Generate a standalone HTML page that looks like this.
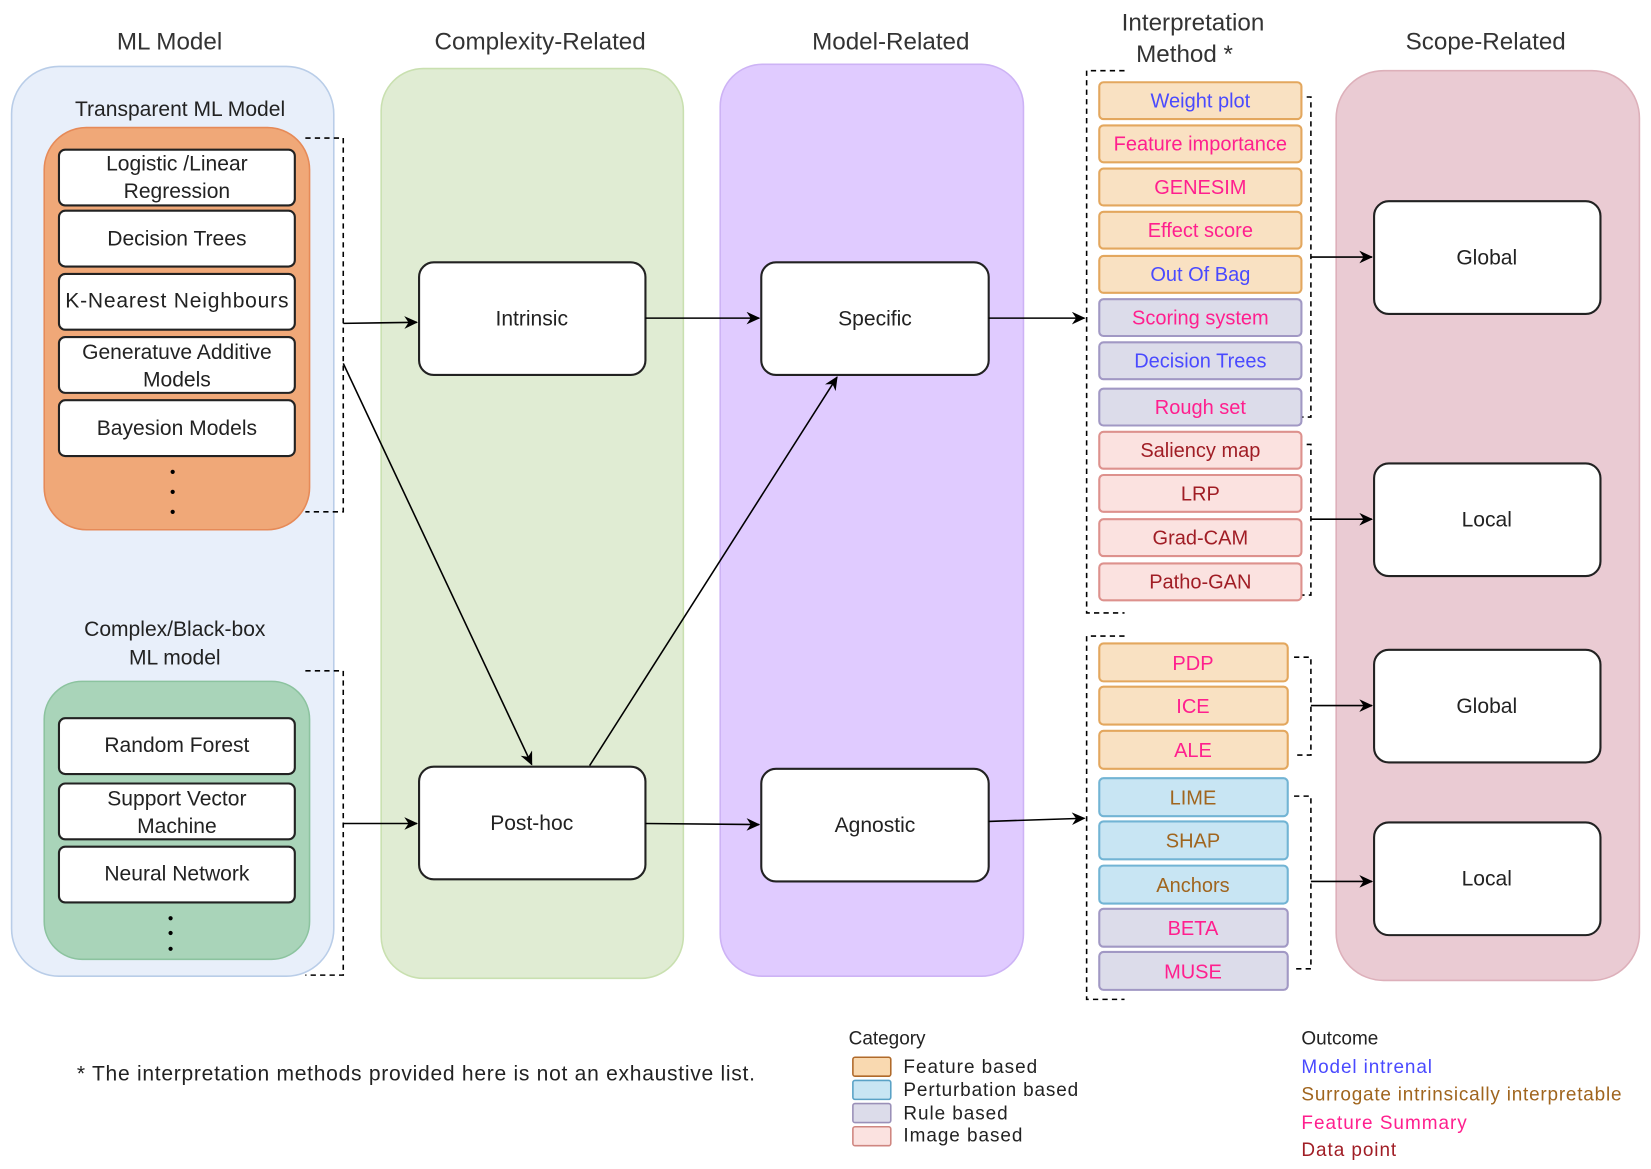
<!DOCTYPE html>
<html><head><meta charset="utf-8"><style>html,body{margin:0;padding:0;background:#fff}svg{display:block}text{font-family:"Liberation Sans",sans-serif}</style></head><body>
<svg width="1651" height="1169" viewBox="0 0 1568 1110" xmlns="http://www.w3.org/2000/svg">
<defs><marker id="a" markerWidth="13" markerHeight="12" refX="12" refY="6" orient="auto" markerUnits="userSpaceOnUse"><path d="M0,0 L13,6 L0,12 L4,6 z" fill="#000"/></marker></defs>
<g font-size="23" fill="#333" text-anchor="middle">
<text x="161" y="47">ML Model</text><text x="513" y="47">Complexity-Related</text><text x="846" y="47">Model-Related</text>
<text x="1133" y="29">Interpretation</text><text x="1125" y="59">Method *</text><text x="1411" y="47">Scope-Related</text></g>
<rect x="11" y="63" width="306" height="864" rx="45" fill="#e8effa" stroke="#b9cde8" stroke-width="1.5"/>
<rect x="362" y="65" width="287" height="864" rx="40" fill="#e0ecd3" stroke="#c9e0b0" stroke-width="1.5"/>
<rect x="684" y="61" width="288" height="866" rx="40" fill="#e0cbff" stroke="#cdb3f5" stroke-width="1.5"/>
<rect x="1269" y="67" width="288" height="864" rx="45" fill="#eacbd3" stroke="#ddb0ba" stroke-width="1.5"/>
<g font-size="20" fill="#222" text-anchor="middle">
<text x="171" y="110">Transparent ML Model</text>
<text x="166" y="604">Complex/Black-box</text><text x="166" y="631">ML model</text></g>
<rect x="42" y="121" width="252" height="382" rx="40" fill="#f0a878" stroke="#e68a58" stroke-width="1.5"/>
<rect x="42" y="647" width="252" height="264" rx="36" fill="#a9d4b9" stroke="#8cc39f" stroke-width="1.5"/>
<g fill="#fff" stroke="#222" stroke-width="2">
<rect x="56" y="142" width="224" height="53" rx="6"/><rect x="56" y="200" width="224" height="53" rx="6"/>
<rect x="56" y="260" width="224" height="53" rx="6"/><rect x="56" y="320" width="224" height="53" rx="6"/>
<rect x="56" y="380" width="224" height="53" rx="6"/>
<rect x="56" y="682" width="224" height="53" rx="6"/><rect x="56" y="744" width="224" height="53" rx="6"/><rect x="56" y="804" width="224" height="53" rx="6"/>
<rect x="398" y="249" width="215" height="107" rx="14"/><rect x="398" y="728" width="215" height="107" rx="14"/>
<rect x="723" y="249" width="216" height="107" rx="14"/><rect x="723" y="730" width="216" height="107" rx="14"/>
<rect x="1305" y="191" width="215" height="107" rx="14"/><rect x="1305" y="440" width="215" height="107" rx="14"/>
<rect x="1305" y="617" width="215" height="107" rx="14"/><rect x="1305" y="781" width="215" height="107" rx="14"/>
</g>
<g font-size="20" fill="#222" text-anchor="middle">
<text x="168" y="162">Logistic /Linear</text><text x="168" y="188">Regression</text>
<text x="168" y="233">Decision Trees</text><text x="168" y="292" textLength="212">K-Nearest Neighbours</text>
<text x="168" y="341">Generatuve Additive</text><text x="168" y="367">Models</text>
<text x="168" y="413">Bayesion Models</text>
<text x="168" y="714">Random Forest</text><text x="168" y="765">Support Vector</text><text x="168" y="791">Machine</text>
<text x="168" y="836">Neural Network</text>
<text x="505" y="309">Intrinsic</text><text x="505" y="788">Post-hoc</text>
<text x="831" y="309">Specific</text><text x="831" y="790">Agnostic</text>
<text x="1412" y="251">Global</text><text x="1412" y="500">Local</text><text x="1412" y="677">Global</text><text x="1412" y="841">Local</text>
</g>
<g fill="#000"><circle cx="164" cy="448" r="2"/><circle cx="164" cy="467" r="2"/><circle cx="164" cy="486" r="2"/>
<circle cx="162" cy="872" r="2"/><circle cx="162" cy="886" r="2"/><circle cx="162" cy="901" r="2"/></g>
<g fill="none" stroke="#000" stroke-width="1.5" stroke-dasharray="5,4">
<path d="M290,131 H326 V486 H290"/><path d="M290,637 H326 V926 H290"/>
<path d="M1068,67 H1032 V582 H1068"/><path d="M1068,604 H1032 V949 H1068"/>
<path d="M1232,92 H1245 V396 H1232"/><path d="M1232,422 H1245 V565 H1232"/>
<path d="M1229,624 H1245 V717 H1229"/><path d="M1229,756 H1245 V920 H1229"/>
</g>
<g stroke="#000" stroke-width="1.5" marker-end="url(#a)">
<line x1="326" y1="307" x2="396" y2="306"/><line x1="326" y1="782" x2="396" y2="782"/>
<line x1="326" y1="345" x2="505" y2="726"/><line x1="560" y1="727" x2="795" y2="358"/>
<line x1="613" y1="302" x2="721" y2="302"/><line x1="613" y1="782" x2="721" y2="783"/>
<line x1="939" y1="302" x2="1030" y2="302"/><line x1="939" y1="780" x2="1030" y2="777"/>
<line x1="1245" y1="244" x2="1303" y2="244"/><line x1="1245" y1="493" x2="1303" y2="493"/>
<line x1="1245" y1="670" x2="1303" y2="670"/><line x1="1245" y1="837" x2="1303" y2="837"/>
</g>
<g stroke-width="2">
<g fill="#f9e1c2" stroke="#e3a75e">
<rect x="1044" y="78" width="192" height="35" rx="4"/><rect x="1044" y="119" width="192" height="35" rx="4"/>
<rect x="1044" y="160" width="192" height="35" rx="4"/><rect x="1044" y="201" width="192" height="35" rx="4"/>
<rect x="1044" y="243" width="192" height="35" rx="4"/>
<rect x="1044" y="611" width="179" height="36" rx="4"/><rect x="1044" y="652" width="179" height="36" rx="4"/><rect x="1044" y="694" width="179" height="36" rx="4"/></g>
<g fill="#dcdcea" stroke="#a198c4">
<rect x="1044" y="284" width="192" height="35" rx="4"/><rect x="1044" y="325" width="192" height="35" rx="4"/><rect x="1044" y="369" width="192" height="35" rx="4"/>
<rect x="1044" y="863" width="179" height="36" rx="4"/><rect x="1044" y="904" width="179" height="36" rx="4"/></g>
<g fill="#fbe2e0" stroke="#dd918d">
<rect x="1044" y="410" width="192" height="35" rx="4"/><rect x="1044" y="451" width="192" height="35" rx="4"/>
<rect x="1044" y="493" width="192" height="35" rx="4"/><rect x="1044" y="535" width="192" height="35" rx="4"/></g>
<g fill="#c8e5f3" stroke="#72b4d4">
<rect x="1044" y="739" width="179" height="36" rx="4"/><rect x="1044" y="780" width="179" height="36" rx="4"/><rect x="1044" y="822" width="179" height="36" rx="4"/></g>
</g>
<g font-size="19" text-anchor="middle">
<text x="1140" y="102" fill="#4a4aff">Weight plot</text><text x="1140" y="143" fill="#ff1f8e">Feature importance</text>
<text x="1140" y="184" fill="#ff1f8e">GENESIM</text><text x="1140" y="225" fill="#ff1f8e">Effect score</text>
<text x="1140" y="267" fill="#4a4aff">Out Of Bag</text><text x="1140" y="308" fill="#ff1f8e">Scoring system</text>
<text x="1140" y="349" fill="#4a4aff">Decision Trees</text><text x="1140" y="393" fill="#ff1f8e">Rough set</text>
<text x="1140" y="434" fill="#a01d25">Saliency map</text><text x="1140" y="475" fill="#a01d25">LRP</text>
<text x="1140" y="517" fill="#a01d25">Grad-CAM</text><text x="1140" y="559" fill="#a01d25">Patho-GAN</text>
<text x="1133" y="636" fill="#ff1f8e">PDP</text><text x="1133" y="677" fill="#ff1f8e">ICE</text><text x="1133" y="719" fill="#ff1f8e">ALE</text>
<text x="1133" y="764" fill="#a0651e">LIME</text><text x="1133" y="805" fill="#a0651e">SHAP</text><text x="1133" y="847" fill="#a0651e">Anchors</text>
<text x="1133" y="888" fill="#ff1f8e">BETA</text><text x="1133" y="929" fill="#ff1f8e">MUSE</text>
</g>
<text x="73" y="1026" font-size="20" fill="#222" textLength="644">* The interpretation methods provided here is not an exhaustive list.</text>
<g font-size="18" fill="#222"><text x="806" y="992">Category</text>
<text x="858" y="1019" textLength="127">Feature based</text><text x="858" y="1041" textLength="166">Perturbation based</text><text x="858" y="1063" textLength="99">Rule based</text><text x="858" y="1084" textLength="113">Image based</text>
<text x="1236" y="992">Outcome</text></g>
<g stroke-width="1.5">
<rect x="810" y="1004" width="36" height="18" rx="2" fill="#f9d9b0" stroke="#b06a2a"/>
<rect x="810" y="1026" width="36" height="18" rx="2" fill="#c8e5f3" stroke="#5aa2c6"/>
<rect x="810" y="1048" width="36" height="18" rx="2" fill="#dcdcea" stroke="#9a90b8"/>
<rect x="810" y="1070" width="36" height="18" rx="2" fill="#fbe2e0" stroke="#cf8680"/></g>
<g font-size="18"><text x="1236" y="1019" fill="#4a4aff" textLength="124">Model intrenal</text>
<text x="1236" y="1045" fill="#a0651e" textLength="304">Surrogate intrinsically interpretable</text>
<text x="1236" y="1072" fill="#ff1f8e" textLength="157">Feature Summary</text>
<text x="1236" y="1098" fill="#a01d25" textLength="90">Data point</text></g>
</svg>
</body></html>
